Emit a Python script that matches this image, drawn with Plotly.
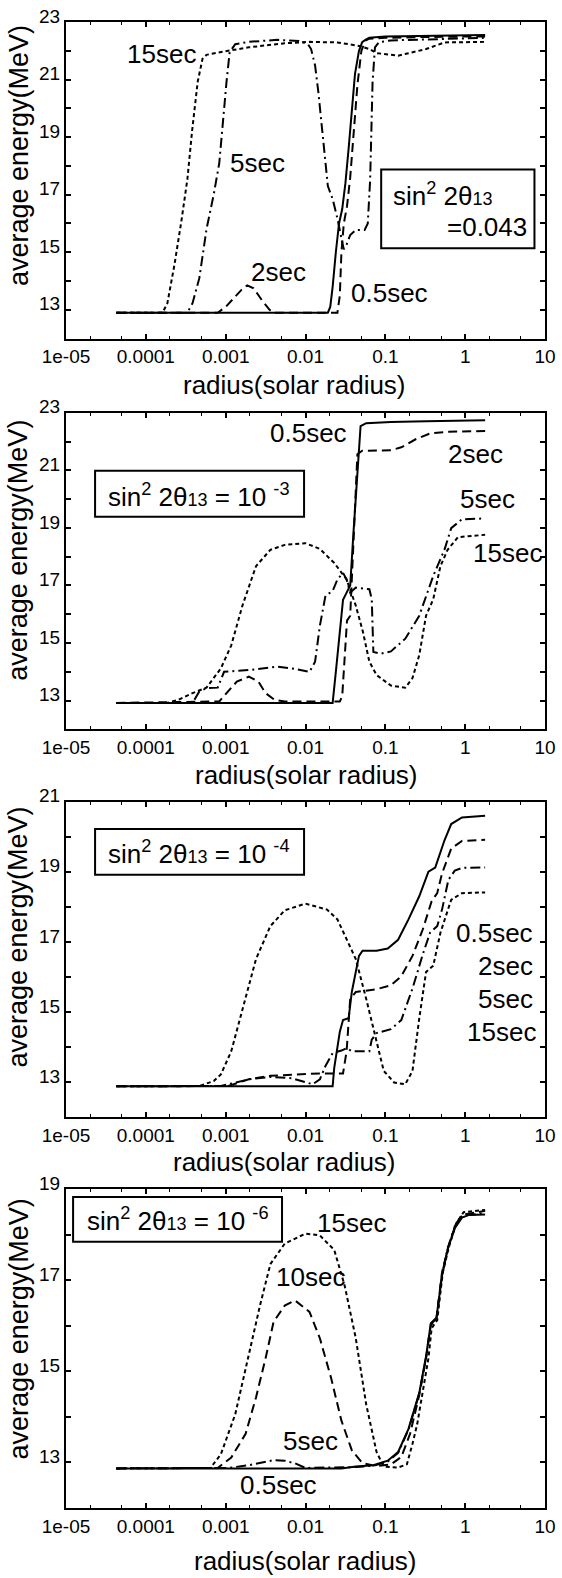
import plotly.graph_objects as go

FONT = "Liberation Sans, Arial, Helvetica, sans-serif"

# ---------------- data (x = log10 radius in solar radii, y = average energy MeV) -------------
# Panel 1: sin^2 2θ13 = 0.043
p1_05_logr = [-4.37, -1.72, -1.69, -1.66, -1.62, -1.58, -1.54, -1.50, -1.46, -1.42, -1.38, -1.33, -1.29, -1.24, -1.20, -1.00, -0.50, 0.00, 0.25]
p1_05_e = [12.9, 12.9, 13.1, 13.8, 15.0, 16.0, 16.5, 17.4, 18.6, 20.0, 21.2, 22.0, 22.3, 22.4, 22.45, 22.5, 22.52, 22.55, 22.55]
p1_2_logr = [-4.37, -3.10, -3.00, -2.90, -2.80, -2.73, -2.65, -2.55, -2.45, -2.40, -1.60, -1.57, -1.55, -1.52, -1.48, -1.44, -1.40, -1.35, -1.30, -1.25, -1.20, -1.00, -0.50, 0.00, 0.25]
p1_2_e = [12.9, 12.9, 13.1, 13.4, 13.7, 13.85, 13.75, 13.35, 13.0, 12.9, 12.9, 13.5, 15.0, 16.0, 16.6, 17.6, 19.0, 20.8, 22.0, 22.35, 22.42, 22.45, 22.48, 22.5, 22.5]
p1_5_logr = [-4.37, -3.48, -3.415, -3.33, -3.24, -3.15, -3.08, -3.04, -2.99, -2.95, -2.88, -2.71, -2.35, -2.08, -1.97, -1.93, -1.88, -1.84, -1.80, -1.75, -1.72, -1.66, -1.60, -1.55, -1.52, -1.485, -1.44, -1.37, -1.26, -1.22, -1.19, -1.16, -1.13, -1.08, -0.93, 0.25]
p1_5_e = [12.9, 12.9, 13.23, 14.1, 15.8, 17.0, 18.1, 19.45, 20.9, 21.95, 22.23, 22.31, 22.38, 22.34, 22.23, 22.06, 21.49, 20.59, 19.45, 18.1, 17.3, 16.85, 16.17, 15.49, 15.1, 15.27, 15.6, 15.77, 15.77, 16.0, 17.53, 20.9, 22.12, 22.3, 22.36, 22.45]
p1_15_logr = [-4.37, -3.79, -3.73, -3.64, -3.55, -3.48, -3.42, -3.35, -3.29, -3.24, -2.97, -2.71, -2.26, -1.95, -1.60, -1.33, -1.20, -1.11, -0.84, -0.49, -0.26, 0.25]
p1_15_e = [12.9, 12.9, 13.23, 14.59, 16.17, 17.53, 19.23, 20.93, 21.72, 21.86, 22.0, 22.12, 22.26, 22.31, 22.29, 22.17, 22.06, 21.92, 21.83, 22.06, 22.29, 22.31]

# Panel 2: sin^2 2θ13 = 1e-3
p2_05_logr = [-4.37, -1.66, -1.62, -1.57, -1.53, -1.485, -1.44, -1.40, -1.35, -1.31, -1.24, -0.93, -0.49, 0.25]
p2_05_e = [12.92, 12.92, 14.0, 15.4, 16.5, 16.75, 17.0, 18.8, 21.1, 22.54, 22.64, 22.68, 22.71, 22.74]
p2_2_logr = [-4.37, -3.08, -2.97, -2.86, -2.71, -2.59, -2.50, -2.39, -2.26, -1.57, -1.54, -1.51, -1.48, -1.44, -1.41, -1.37, -1.35, -1.29, -0.93, -0.80, -0.62, -0.44, -0.22, 0.25]
p2_2_e = [12.92, 12.97, 13.32, 13.66, 13.83, 13.66, 13.26, 13.03, 12.97, 12.97, 13.15, 14.69, 15.78, 15.95, 17.67, 19.96, 21.56, 21.68, 21.7, 21.8, 22.08, 22.28, 22.34, 22.37]
p2_5_logr = [-4.37, -3.415, -3.33, -3.24, -3.10, -3.02, -2.88, -2.71, -2.35, -2.13, -1.95, -1.88, -1.82, -1.75, -1.66, -1.60, -1.53, -1.485, -1.44, -1.37, -1.20, -1.17, -1.15, -1.06, -0.93, -0.75, -0.575, -0.40, -0.26, -0.175, -0.04, 0.25]
p2_5_e = [12.92, 12.92, 13.32, 13.43, 13.45, 14.0, 14.03, 14.06, 14.18, 14.1, 14.0, 14.35, 15.6, 16.64, 16.81, 17.21, 17.44, 17.21, 16.75, 16.93, 16.87, 16.52, 14.69, 14.63, 14.71, 15.15, 15.95, 17.33, 18.24, 18.99, 19.3, 19.33]
p2_15_logr = [-4.37, -3.73, -3.59, -3.415, -3.24, -3.06, -2.93, -2.79, -2.62, -2.44, -2.26, -2.00, -1.82, -1.64, -1.485, -1.37, -1.28, -1.20, -1.11, -0.93, -0.75, -0.66, -0.575, -0.49, -0.40, -0.31, -0.22, -0.09, 0.25]
p2_15_e = [12.92, 12.92, 13.03, 13.26, 13.45, 14.12, 14.92, 16.3, 17.67, 18.24, 18.41, 18.47, 18.27, 17.78, 17.21, 16.3, 15.38, 14.35, 13.89, 13.52, 13.45, 13.78, 14.58, 15.95, 16.52, 17.67, 18.24, 18.68, 18.76]

# Panel 3: sin^2 2θ13 = 1e-4
p3_05_logr = [-4.37, -1.66, -1.64, -1.57, -1.53, -1.46, -1.42, -1.37, -1.33, -1.285, -1.11, -0.97, -0.84, -0.71, -0.575, -0.46, -0.375, -0.26, -0.175, -0.04, 0.25]
p3_05_e = [12.88, 12.88, 13.41, 14.44, 14.77, 14.82, 15.57, 16.14, 16.6, 16.75, 16.75, 16.81, 17.06, 17.64, 18.3, 19.0, 19.12, 19.89, 20.36, 20.55, 20.6]
p3_2_logr = [-4.37, -2.97, -2.71, -2.44, -1.82, -1.53, -1.485, -1.44, -1.37, -1.11, -0.93, -0.80, -0.66, -0.53, -0.42, -0.35, -0.29, -0.175, -0.04, 0.25]
p3_2_e = [12.88, 12.89, 13.08, 13.18, 13.25, 13.25, 13.88, 15.38, 15.57, 15.65, 15.76, 16.02, 16.6, 17.36, 18.16, 18.39, 18.95, 19.66, 19.88, 19.91]
p3_5_logr = [-4.37, -3.06, -2.71, -2.44, -2.17, -2.00, -1.91, -1.82, -1.75, -1.66, -1.55, -1.485, -1.42, -1.20, -1.17, -1.11, -0.93, -0.80, -0.66, -0.53, -0.44, -0.35, -0.29, -0.21, -0.13, -0.04, 0.25]
p3_5_e = [12.88, 12.89, 13.08, 13.15, 13.11, 13.0, 12.94, 13.08, 13.46, 13.83, 13.9, 13.97, 13.88, 13.88, 14.21, 14.4, 14.51, 14.77, 15.67, 16.65, 17.26, 17.45, 17.92, 18.77, 19.03, 19.11, 19.12]
p3_15_logr = [-4.37, -3.33, -3.15, -3.06, -2.93, -2.75, -2.62, -2.44, -2.26, -2.00, -1.73, -1.60, -1.46, -1.37, -1.24, -1.11, -1.02, -0.89, -0.75, -0.66, -0.575, -0.49, -0.40, -0.31, -0.175, -0.04, 0.25]
p3_15_e = [12.88, 12.89, 13.03, 13.22, 13.88, 15.38, 16.51, 17.45, 17.9, 18.09, 17.92, 17.64, 16.98, 16.51, 15.38, 14.16, 13.32, 12.99, 12.94, 13.32, 14.82, 16.14, 16.32, 17.26, 18.2, 18.39, 18.41]

# Panel 4: sin^2 2θ13 = 1e-6
p4_05_logr = [-4.37, -1.55, -1.37, -1.15, -0.97, -0.84, -0.71, -0.575, -0.49, -0.43, -0.36, -0.29, -0.22, -0.13, -0.04, 0.05, 0.25]
p4_05_e = [12.87, 12.87, 12.91, 12.94, 13.04, 13.23, 13.74, 14.53, 15.33, 16.06, 16.18, 17.1, 17.68, 18.15, 18.38, 18.44, 18.45]
p4_5_logr = [-4.37, -2.97, -2.71, -2.53, -2.40, -2.26, -2.13, -2.00, -1.37, -1.15, -0.97, -0.84, -0.71, -0.575, -0.49, -0.43, -0.36, -0.29, -0.22, -0.13, -0.04, 0.25]
p4_5_e = [12.87, 12.88, 12.94, 13.01, 13.05, 13.04, 12.98, 12.88, 12.9, 12.93, 13.02, 13.21, 13.72, 14.51, 15.31, 16.04, 16.16, 17.13, 17.7, 18.19, 18.42, 18.48]
p4_10_logr = [-4.37, -3.10, -2.93, -2.75, -2.62, -2.50, -2.40, -2.26, -2.13, -1.95, -1.82, -1.68, -1.55, -1.42, -1.29, -1.11, -0.93, -0.80, -0.69, -0.575, -0.49, -0.43, -0.36, -0.29, -0.21, -0.12, -0.04, 0.25]
p4_10_e = [12.87, 12.88, 13.11, 13.63, 14.43, 15.29, 16.09, 16.45, 16.56, 16.31, 15.73, 14.86, 13.92, 13.27, 12.99, 12.92, 12.96, 13.12, 13.63, 14.48, 15.29, 16.02, 16.15, 17.18, 17.74, 18.23, 18.44, 18.53]
p4_15_logr = [-4.37, -3.19, -3.06, -2.88, -2.71, -2.57, -2.44, -2.26, -2.00, -1.82, -1.64, -1.51, -1.37, -1.24, -1.11, -1.02, -0.84, -0.73, -0.66, -0.60, -0.53, -0.46, -0.42, -0.35, -0.28, -0.20, -0.11, -0.02, 0.25]
p4_15_e = [12.87, 12.88, 13.18, 14.06, 15.37, 16.45, 17.36, 17.81, 18.03, 17.99, 17.67, 16.89, 15.73, 14.28, 13.23, 12.91, 12.89, 12.96, 13.41, 13.85, 14.57, 15.29, 15.95, 16.13, 17.18, 17.76, 18.26, 18.5, 18.55]

x_tickvals = [1e-5, 1e-4, 1e-3, 1e-2, 1e-1, 1, 10]
x_ticktext = ["1e-05", "0.0001", "0.001", "0.01", "0.1", "1", "10"]

# ---------------- styles ----------------
SOLID = "solid"
DASH = "9px,5px"
DASHDOT = "10px,4px,2px,4px"
DOT = "4px,3px"

panels = [
    dict(series=[(p1_05_logr, p1_05_e, SOLID), (p1_2_logr, p1_2_e, DASH),
                 (p1_5_logr, p1_5_e, DASHDOT), (p1_15_logr, p1_15_e, DOT)],
         yrange=[12, 23], dom=[0.78695, 1.0]),
    dict(series=[(p2_05_logr, p2_05_e, SOLID), (p2_2_logr, p2_2_e, DASH),
                 (p2_5_logr, p2_5_e, DASHDOT), (p2_15_logr, p2_15_e, DOT)],
         yrange=[12, 23], dom=[0.52397, 0.73702]),
    dict(series=[(p3_05_logr, p3_05_e, SOLID), (p3_2_logr, p3_2_e, DASH),
                 (p3_5_logr, p3_5_e, DASHDOT), (p3_15_logr, p3_15_e, DOT)],
         yrange=[12, 21], dom=[0.26298, 0.47537]),
    dict(series=[(p4_05_logr, p4_05_e, SOLID), (p4_5_logr, p4_5_e, DASHDOT),
                 (p4_10_logr, p4_10_e, DASH), (p4_15_logr, p4_15_e, DOT)],
         yrange=[12, 19], dom=[0.0, 0.21438]),
]

fig = go.Figure()
minor_vals = []
for d in range(-5, 1):
    minor_vals += [2 * 10 ** d, 5 * 10 ** d]

for i, p in enumerate(panels):
    n = "" if i == 0 else str(i + 1)
    for lr, e, dash in p["series"]:
        fig.add_trace(go.Scatter(
            x=[10 ** v for v in lr], y=e, mode="lines",
            line=dict(color="black", width=2, dash=dash),
            xaxis="x" + n, yaxis="y" + n, showlegend=False, hoverinfo="skip"))
    lo, hi = p["yrange"]
    odd = [v for v in range(lo + 1, hi + 1) if v % 2 == 1]
    even = [v for v in range(lo + 1, hi + 1) if v % 2 == 0]
    fig.update_layout({
        "xaxis" + n: dict(type="log", range=[-5, 1], domain=[0, 1], anchor="y" + n,
                          tickmode="array", tickvals=x_tickvals, ticktext=x_ticktext,
                          ticks="inside", ticklen=5, tickwidth=1.5, tickcolor="black",
                          minor=dict(tickmode="array", tickvals=minor_vals, ticks="inside",
                                     ticklen=3, tickwidth=1, tickcolor="black", showgrid=False),
                          showline=True, linecolor="black", linewidth=2, mirror="allticks",
                          showgrid=False, zeroline=False,
                          tickfont=dict(family=FONT, size=19, color="black")),
        "yaxis" + n: dict(range=[lo, hi], domain=p["dom"], anchor="x" + n,
                          tickmode="array", tickvals=odd, ticktext=[str(v) for v in odd],
                          ticks="inside", ticklen=5, tickwidth=1.5, tickcolor="black",
                          minor=dict(tickmode="array", tickvals=even, ticks="inside",
                                     ticklen=5, tickwidth=1.5, tickcolor="black", showgrid=False),
                          showline=True, linecolor="black", linewidth=2, mirror="allticks",
                          showgrid=False, zeroline=False, ticklabelshift=-6,
                          tickfont=dict(family=FONT, size=19, color="black")),
    })

ann = []
LAB = dict(family=FONT, size=26, color="black")


def lab(text, lx, y, ax, xanchor="left"):
    ann.append(dict(text=text, x=lx, y=y, xref="x" + ax, yref="y" + ax,
                    xanchor=xanchor, yanchor="middle", showarrow=False, font=LAB))


S13 = "<span style='font-size:18px'>13</span>"
# panel 1
lab("15sec", -3.35, 21.89, "", "right")
lab("5sec", -2.97, 18.1, "")
lab("2sec", -2.705, 14.3, "")
lab("0.5sec", -1.46, 13.57, "")
lab("sin<sup>2</sup> 2θ" + S13, -0.93, 17.0, "")
lab("=0.043", 0.80, 15.89, "", "right")
# panel 2
lab("0.5sec", -1.46, 22.3, "2", "right")
lab("2sec", -0.24, 21.56, "2")
lab("5sec", -0.09, 20.02, "2")
lab("15sec", 0.07, 18.13, "2")
lab("sin<sup>2</sup> 2θ" + S13 + " = 10 <sup>-3</sup>", -3.33, 20.13, "2", "center")
# panel 3
lab("0.5sec", 0.87, 17.26, "3", "right")
lab("2sec", 0.87, 16.32, "3", "right")
lab("5sec", 0.87, 15.38, "3", "right")
lab("15sec", 0.91, 14.44, "3", "right")
lab("sin<sup>2</sup> 2θ" + S13 + " = 10 <sup>-4</sup>", -3.33, 19.55, "3", "center")
# panel 4
lab("15sec", -1.88, 18.26, "4")
lab("10sec", -2.395, 17.07, "4")
lab("5sec", -2.31, 13.48, "4")
lab("0.5sec", -2.85, 12.51, "4")
lab("sin<sup>2</sup> 2θ" + S13 + " = 10 <sup>-6</sup>", -3.60, 18.34, "4", "center")

# axis titles
xt = [(0.477, 0.7557), (0.502, 0.4935), (0.457, 0.233), (0.500, -0.036)]
yt_pos = [0.9101, 0.6445, 0.3842, 0.1205]
for (px, py), yy in zip(xt, yt_pos):
    ann.append(dict(text="radius(solar radius)", x=px, y=py, xref="paper", yref="paper",
                    xanchor="center", yanchor="middle", showarrow=False,
                    font=dict(family=FONT, size=26, color="black")))
    ann.append(dict(text="average energy(MeV)", x=-0.0992, y=yy, xref="paper", yref="paper",
                    xanchor="center", yanchor="middle", textangle=-90, showarrow=False,
                    font=dict(family=FONT, size=27, color="black")))

shapes = []
boxes = [("", 0.658, 0.978, 0.285, 0.534), ("2", 0.0607, 0.497, 0.672, 0.817),
         ("3", 0.0607, 0.497, 0.768, 0.913), ("4", 0.0148, 0.451, 0.836, 0.976)]
for n, x0, x1, y0, y1 in boxes:
    shapes.append(dict(type="rect", xref="x" + n + " domain", yref="y" + n + " domain",
                       x0=x0, x1=x1, y0=y0, y1=y1, line=dict(color="black", width=2),
                       fillcolor="rgba(0,0,0,0)"))

fig.update_layout(width=562, height=1578, margin=dict(l=66, r=12, t=6, b=70),
                  paper_bgcolor="white", plot_bgcolor="white",
                  annotations=ann, shapes=shapes, showlegend=False,
                  font=dict(family=FONT, color="black"))
fig.write_html("out.html", config={"displayModeBar": False},
               post_script="document.body.style.margin='0';document.body.style.overflow='hidden';")
